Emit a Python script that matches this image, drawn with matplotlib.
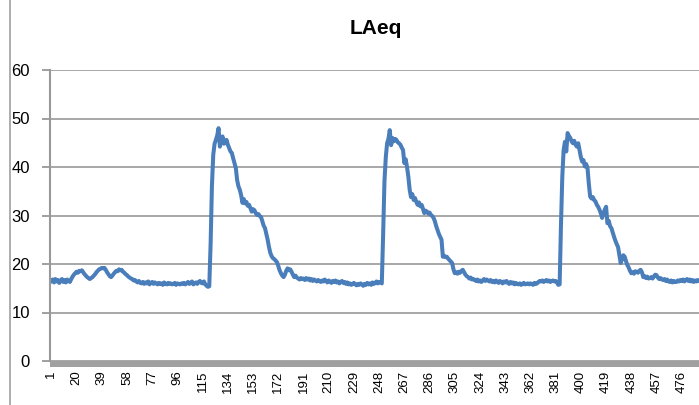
import numpy as np
import matplotlib
matplotlib.use("Agg")
import matplotlib.pyplot as plt
from matplotlib.patches import Rectangle
from matplotlib.lines import Line2D

plt.rcParams['font.family'] = ['Liberation Sans', 'DejaVu Sans']

# LAeq readings, one per sample
base1 = [16.5, 16.8, 16.2, 16.9, 16.4, 16.7, 16.1, 16.6, 16.9, 16.3,
         16.7, 16.2, 16.8, 16.5, 16.3, 16.9, 17.4, 17.8, 18.1, 18.4,
         18.2, 18.6, 18.5, 18.7, 18.3, 17.9, 17.6, 17.3, 17.1, 16.9,
         17.1, 17.3, 17.6, 17.9, 18.3, 18.6, 18.9, 19.0, 19.2, 19.1,
         19.2, 18.8, 18.3, 17.9, 17.5, 17.3, 17.6, 18.0, 18.3, 18.6,
         18.5, 18.9, 18.7, 18.8, 18.4, 18.2, 17.9, 17.7, 17.4, 17.2,
         17.0, 16.9, 16.6, 16.7, 16.4, 16.2, 16.5, 16.1, 16.0, 16.3,
         15.9, 16.2, 16.0, 16.4, 15.8, 16.1, 16.3, 15.9, 16.2, 16.0,
         15.8, 16.1, 15.9, 16.0, 15.7, 16.2, 15.9, 15.8, 16.1, 15.9,
         16.0, 15.8, 15.9, 16.1, 15.7, 16.0, 15.9, 15.8, 16.0, 15.9,
         16.1, 15.8, 16.0, 16.3, 15.9, 16.1, 16.4, 15.8, 16.0, 16.2,
         15.9, 16.3, 16.5, 16.1, 16.0, 16.4, 15.8, 15.5, 15.3, 15.4]

peak1 = [24.0, 36.0, 42.5, 44.8, 45.6, 46.5, 48.0, 44.2, 45.5, 46.3,
         44.8, 45.0, 45.6, 44.6, 43.9, 43.2, 42.9, 41.8, 40.8, 39.8,
         37.3, 36.0, 35.3, 34.2, 32.6, 33.4, 32.5, 32.8, 32.0, 32.2,
         31.5, 30.8, 31.3, 31.1, 30.5, 30.1, 30.3, 29.9, 29.7, 28.8,
         27.9, 27.4, 26.2, 25.0, 23.5, 22.3, 21.6, 21.2, 21.0, 20.7,
         20.4, 19.6, 18.7, 18.1, 17.6, 17.3, 17.8, 18.6, 19.1, 18.7,
         18.9, 18.4, 17.8, 17.3, 17.6, 17.2, 17.0, 16.8, 17.1, 16.9,
         17.0, 16.7, 17.1, 16.8, 17.0, 16.6, 16.9, 16.5, 16.8, 16.6]

base2 = [16.4, 16.7, 16.5, 16.3, 16.6, 16.4, 16.8, 16.5, 16.2, 16.6,
         16.4, 16.1, 16.5, 16.3, 16.6, 16.2, 16.4, 16.0, 16.3, 16.5,
         16.1, 16.3, 15.9, 16.2, 15.8, 16.0, 15.7, 15.9, 16.1, 15.8,
         15.6, 15.9, 15.7, 16.0, 15.8, 15.5, 15.9, 15.7, 16.1, 15.8,
         16.0, 15.7, 16.2, 15.9, 16.1, 16.4, 16.0, 16.3, 16.2, 16.0]

peak2 = [26.0, 37.0, 42.0, 44.9, 45.8, 47.6, 44.5, 46.0, 45.3, 45.8,
         45.6, 45.1, 44.9, 44.6, 44.0, 43.5, 40.8, 41.6, 40.0, 38.0,
         35.3, 33.8, 34.4, 33.2, 33.6, 32.8, 32.2, 32.7, 31.9, 32.2,
         31.4, 30.5, 31.0, 30.8, 30.4, 30.6, 30.1, 29.9, 29.5, 28.8,
         27.8, 27.0, 26.2, 25.6, 25.0, 21.5, 21.7, 21.4, 21.5, 21.1,
         20.8, 20.5, 20.2, 18.9, 18.1, 18.3, 18.0, 18.4, 18.2, 18.6,
         18.8, 18.3, 17.8, 17.5, 17.3, 17.0, 17.2, 16.8, 16.9, 16.7,
         16.5, 16.8, 16.4, 16.6, 16.3, 16.6, 16.9, 16.5, 16.8, 16.6]

base3 = [16.4, 16.7, 16.3, 16.5, 16.2, 16.6, 16.4, 16.1, 16.5, 16.3,
         16.0, 16.4, 16.2, 16.5, 16.1, 15.9, 16.3, 16.0, 16.2, 15.8,
         16.1, 15.9, 15.8, 16.0, 15.7, 15.9, 16.1, 15.8, 15.9, 16.0,
         15.8, 16.0, 15.9, 15.7, 16.1, 15.9, 16.0, 16.3, 16.5, 16.4,
         16.6, 16.3, 16.5, 16.7, 16.4, 16.6, 16.3, 16.5, 16.6, 16.4,
         16.5, 16.2, 15.7, 15.8]

peak3 = [28.0, 38.0, 43.5, 45.2, 43.2, 47.0, 46.4, 46.0, 45.3, 44.9,
         45.4, 44.6, 44.2, 44.9, 43.5, 42.0, 41.1, 41.4, 40.1, 40.6,
         39.8, 36.5, 33.9, 33.5, 33.8, 33.2, 32.9, 32.2, 31.8, 31.2,
         30.5, 29.5, 30.4, 31.2, 31.8, 28.4, 28.9, 27.8, 27.4, 26.5,
         25.6, 24.8, 24.1, 23.5, 21.8, 20.2, 21.0, 21.8, 21.5, 20.6,
         19.8, 19.3, 18.6, 18.1, 18.3, 18.0, 18.5, 18.4, 18.2, 18.6,
         18.8, 18.3, 17.3, 17.5, 17.1, 17.4, 17.0, 17.1, 17.3, 17.0,
         17.4, 17.8, 17.7, 17.2, 16.9, 17.1, 16.8, 16.7, 16.9, 16.5,
         16.8, 16.4, 16.3, 16.6, 16.2, 16.5, 16.3, 16.3, 16.6, 16.4,
         16.7, 16.5, 16.8, 16.4, 16.7, 16.9, 16.5, 16.8, 16.4, 16.7,
         16.3, 16.6, 16.4, 16.7, 16.5, 16.6]

laeq = base1 + peak1 + base2 + peak2 + base3 + peak3
samples = np.arange(1, len(laeq) + 1)
tick_labels = list(range(1, 477, 19))
y_ticks = [0, 10, 20, 30, 40, 50, 60]

W, H = 699, 405
fig = plt.figure(figsize=(W / 100, H / 100), dpi=100)
ax = fig.add_axes([50 / W, 44 / H, 649 / W, 291 / H])

ax.plot(samples, laeq, color='#4a7ebb', lw=2.9, solid_joinstyle='round')

ax.set_ylim(0, 60)
ax.set_xlim(0, 489)
ax.set_yticks(y_ticks)
ax.set_xticks(tick_labels)
ax.set_xticklabels([str(t) for t in tick_labels], rotation=90, fontsize=9.5)
ax.tick_params(axis='x', length=0, pad=7)
ax.tick_params(axis='y', length=6, width=1.3, color='#999999', labelsize=12, pad=8.5)

ax.grid(axis='y', color='#a0a0a0', lw=1.3)
ax.set_axisbelow(True)
for s in ['top', 'right', 'bottom']:
    ax.spines[s].set_visible(False)
ax.spines['left'].set_color('#999999')
ax.spines['left'].set_linewidth(1.5)

# floor band and outer border like the spreadsheet chart
fig.add_artist(Rectangle((50 / W, (H - 367) / H), 649 / W, 6 / H,
                         transform=fig.transFigure, color='#a0a0a0', lw=0))
fig.add_artist(Line2D([10 / W, 10 / W], [0, 1], transform=fig.transFigure,
                      color='#a0a0a0', lw=1.2))

fig.text(376 / W, 1 - 29 / H, 'LAeq', ha='center', va='center',
         fontsize=15, fontweight='bold')

fig.savefig('out.png', dpi=100)
